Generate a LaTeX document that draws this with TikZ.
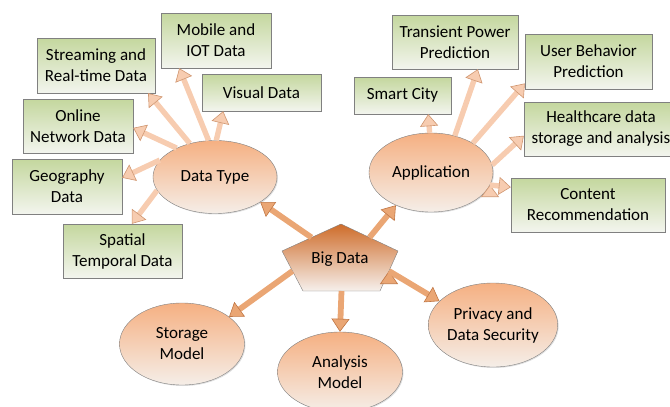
\documentclass[tikz,border=0pt]{standalone}
\usepackage{fontspec}
\setmainfont{Carlito}
\usetikzlibrary{arrows.meta,calc,shadows,shapes.geometric}

\definecolor{boxtop}{RGB}{196,215,158}
\definecolor{boxbot}{RGB}{243,245,238}
\definecolor{ovaltop}{RGB}{245,176,130}
\definecolor{ovalbot}{RGB}{245,238,232}
\definecolor{coretop}{RGB}{206,108,42}
\definecolor{corebot}{RGB}{246,240,236}
\definecolor{edgegray}{RGB}{128,128,128}
\definecolor{thinfill}{RGB}{247,204,176}
\definecolor{thinedge}{RGB}{208,150,112}
\definecolor{thickfill}{RGB}{234,166,116}
\definecolor{thickedge}{RGB}{192,118,68}

\begin{document}
\begin{tikzpicture}[x=1pt,y=-1pt,
  every node/.style={font=\fontsize{17}{21}\selectfont,align=center,inner sep=0pt},
  box node/.style={rectangle,draw=edgegray,top color=boxtop,bottom color=boxbot,
    drop shadow={shadow xshift=1pt,shadow yshift=-1pt,opacity=0.25}},
  oval node/.style={ellipse,draw=edgegray,top color=ovaltop,bottom color=ovalbot,
    drop shadow={shadow xshift=1pt,shadow yshift=-1pt,opacity=0.25}},
  thin arrow/.style={line width=5.4pt,draw=thinfill,
    -{Triangle[length=12pt,width=18pt,line width=0.6pt,fill=thinfill,color=thinedge]},
    preaction={draw=thinedge,line width=6.6pt,-,shorten >=10pt}},
  thick arrow/.style={line width=5.8pt,draw=thickfill,
    -{Triangle[length=13pt,width=18pt,line width=0.6pt,fill=thickfill,color=thickedge]},
    preaction={draw=thickedge,line width=7pt,-,shorten >=11pt}}]

  \useasboundingbox (0,0) rectangle (670,407);

  % data type side
  \node[oval node,minimum width=124pt,minimum height=73pt] (dt) at (215,177) {Data Type};
  \node[box node,minimum width=118pt,minimum height=55pt] (st) at (96,65.5) {Streaming and\\Real-time Data};
  \node[box node,minimum width=110pt,minimum height=55pt] (mo) at (216,40.5) {Mobile and\\IOT Data};
  \node[box node,minimum width=119pt,minimum height=37pt] (vi) at (261.5,92.5) {Visual Data};
  \node[box node,minimum width=110pt,minimum height=54pt] (on) at (78,126) {Online\\Network Data};
  \node[box node,minimum width=110pt,minimum height=55pt] (ge) at (67,186.5) {Geography\\Data};
  \node[box node,minimum width=119pt,minimum height=54pt] (sp) at (122.5,251) {Spatial\\Temporal Data};

  % application side
  \node[oval node,minimum width=124pt,minimum height=79pt] (ap) at (431,172.5) {Application};
  \node[box node,minimum width=97pt,minimum height=37pt] (sc) at (402.5,95.5) {Smart City};
  \node[box node,minimum width=126pt,minimum height=54pt] (tp) at (455,42) {Transient Power\\Prediction};
  \node[box node,minimum width=127pt,minimum height=55pt] (ub) at (588.5,61.5) {User Behavior\\Prediction};
  \node[box node,minimum width=154pt,minimum height=54pt] (hc) at (601,129) {Healthcare data\\storage and analysis};
  \node[box node,minimum width=154pt,minimum height=54pt] (cr) at (588,205) {Content\\Recommendation};

  % models
  \node[oval node,minimum width=125pt,minimum height=82pt] (sm) at (182,344) {Storage\\Model};
  \node[oval node,minimum width=125pt,minimum height=80pt] (am) at (340,372) {Analysis\\Model};
  \node[oval node,minimum width=128pt,minimum height=84pt] (pr) at (493,325) {Privacy and\\Data Security};

  % big data pentagon
  \coordinate (bd-t) at (341,224);
  \coordinate (bd-l) at (282,251);
  \coordinate (bd-r) at (398,251);
  \coordinate (bd-bl) at (303,291);
  \coordinate (bd-br) at (380,291);
  \shade[top color=coretop,bottom color=corebot,draw=edgegray]
    (bd-t) -- (bd-r) -- (bd-br) -- (bd-bl) -- (bd-l) -- cycle;
  \node (bd) at (340,259) {Big Data};

  \path[thin arrow]
    (dt.127) edge (st.-28)
    (dt.100) edge (mo.-143)
    (dt.88) edge (vi.-154)
    (dt.143) edge (on.-2)
    (dt.163) edge (ge.9)
    (dt.193) edge (sp.71)
    (ap.92) edge (sc.-36)
    (ap.57) edge (tp.-50)
    (ap.35) edge (ub.199)
    (ap.7) edge (hc.185)
    (ap.-12) edge (cr.167);

  \path[thick arrow]
    ($(bd-t)!0.5!(bd-l)$) edge (dt.-29)
    ($(bd-t)!0.5!(bd-r)$) edge (ap.-137)
    ($(bd-l)!0.5!(bd-bl)$) edge (sm.30)
    ($(bd-bl)!0.5!(bd-br)$) edge (am.north)
    ($(bd-r)!0.5!(bd-br)$) edge (pr.156);
\end{tikzpicture}
\end{document}
